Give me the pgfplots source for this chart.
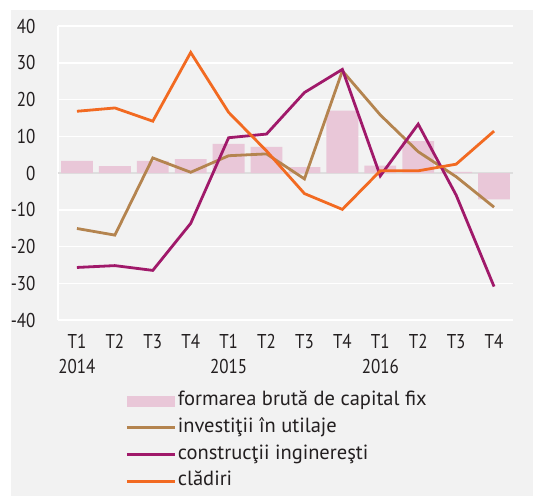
\documentclass[border=0pt]{standalone}
\usepackage{fontspec}
\setmainfont{PT Sans}
\newfontfamily\tickfont[FakeStretch=0.85]{PT Sans}
\newfontfamily\legfont{PT Sans}
\usepackage{pgfplots}
\pgfplotsset{compat=1.18}

\definecolor{panel}{HTML}{F2F2F2}
\definecolor{barpink}{HTML}{E9C7D8}
\definecolor{utilaje}{HTML}{B4844F}
\definecolor{ingineresti}{HTML}{A0196A}
\definecolor{cladiri}{HTML}{F26A21}
\definecolor{txt}{HTML}{231F20}

\begin{document}
\begin{tikzpicture}[x=1pt,y=1pt]
\fill[panel] (-47,-176) rectangle (475,310);
\path[use as bounding box] (-58,-176) rectangle (475,320);
\begin{axis}[
    at={(0,0)}, anchor=south west,
    scale only axis, width=455pt, height=294pt,
    xmin=-0.5, xmax=11.5, ymin=-40, ymax=40,
    xtick={0,...,11},
    xticklabels={T1\\2014,T2,T3,T4,T1\\2015,T2,T3,T4,T1\\2016,T2,T3,T4},
    ytick={-40,-30,...,40},
    axis lines=left, axis line style={-},
    x axis line style={draw=none},
    y axis line style={white, line width=2pt},
    major tick length=0pt, tick style={draw=none},
    ymajorgrids, grid style={white, line width=1.5pt},
    extra y ticks={0}, extra y tick labels={},
    extra y tick style={grid style={black!13, line width=1.2pt}},
    yticklabel style={font=\fontsize{20}{22}\selectfont\tickfont, text=txt, anchor=east, xshift=-19pt},
    xticklabel style={font=\fontsize{20}{25}\selectfont\tickfont, text=txt, align=center, anchor=north, yshift=-11pt},
    /pgf/number format/assume math mode=true,
    legend style={at={(axis description cs:0.148,-0.238)}, anchor=north west,
        draw=none, fill=none, inner sep=0pt, row sep=4.7pt,
        font=\fontsize{20.5}{22}\selectfont\legfont, text=txt,
        nodes={inner sep=1.5pt, text height=14pt, text depth=5pt}},
    legend cell align=left,
    legend image code/.code={\draw[#1] (0pt,0pt) -- (48pt,0pt);},
]
\addplot[ybar, bar width=0.84, fill=barpink, draw=none,
    legend image code/.code={\fill[barpink] (0pt,-5.5pt) rectangle (48pt,5.5pt);}]
    coordinates {(0,3.3) (1,1.9) (2,3.3) (3,3.8) (4,7.9) (5,7.1) (6,1.6) (7,17.0) (8,2.0) (9,8.7) (10,0.3) (11,-7.2)};
\addplot[utilaje, line width=2.8pt, mark=none]
    coordinates {(0,-15.1) (1,-16.9) (2,4.1) (3,0.2) (4,4.7) (5,5.2) (6,-1.6) (7,27.8) (8,15.8) (9,5.8) (10,-1.0) (11,-9.3)};
\addplot[ingineresti, line width=2.8pt, mark=none]
    coordinates {(0,-25.7) (1,-25.2) (2,-26.5) (3,-13.7) (4,9.6) (5,10.6) (6,21.9) (7,28.2) (8,-0.8) (9,13.3) (10,-6.0) (11,-30.9)};
\addplot[cladiri, line width=2.8pt, mark=none]
    coordinates {(0,16.8) (1,17.7) (2,14.1) (3,32.8) (4,16.5) (5,6.0) (6,-5.6) (7,-9.9) (8,0.6) (9,0.6) (10,2.4) (11,11.4)};
\legend{formarea brută de capital fix, investiţii în utilaje, construcţii inginereşti, clădiri}
\end{axis}
\end{tikzpicture}
\end{document}
